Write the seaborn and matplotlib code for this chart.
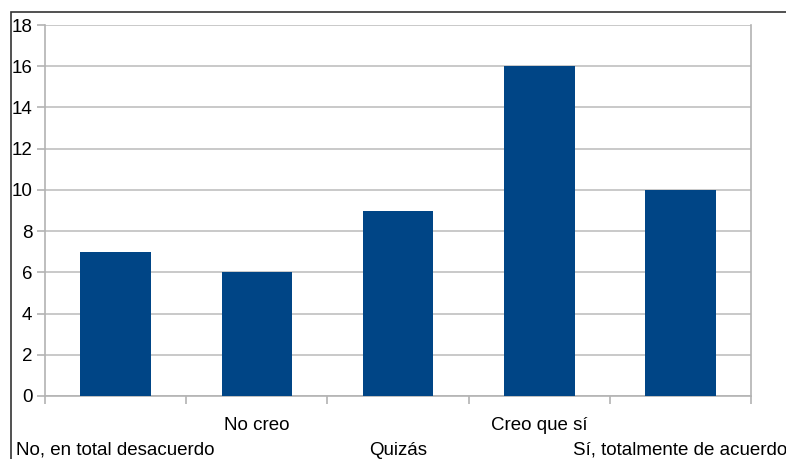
import matplotlib
matplotlib.use("Agg")
import matplotlib.pyplot as plt
import matplotlib.transforms as mtransforms
from matplotlib.patches import Rectangle
import seaborn as sns
import pandas as pd

categories = ["No, en total desacuerdo", "No creo", "Quizás", "Creo que sí", "Sí, totalmente de acuerdo"]
values = [7, 6, 9, 16, 10]
yticks = [0, 2, 4, 6, 8, 10, 12, 14, 16, 18]

sns.set_theme(style="white")
plt.rcParams['font.family'] = ['Liberation Sans', 'DejaVu Sans']

W, H = 786, 459
fig = plt.figure(figsize=(W / 100, H / 100), dpi=100)
fig.patch.set_facecolor("white")

# figure border (left and top visible)
fig.add_artist(Rectangle((11 / W, -0.1), 2.0, (H - 12) / H + 0.1, transform=fig.transFigure,
                         fill=False, edgecolor="#333333", linewidth=1.2))

ax = fig.add_axes([45 / W, (H - 396) / H, 706 / W, (396 - 25) / H])
df = pd.DataFrame({"cat": categories, "val": values})
sns.barplot(data=df, x="cat", y="val", color="#004586", width=0.5, saturation=1, ax=ax,
            zorder=3, linewidth=0, edgecolor="none")

ax.set_ylim(0, 18)
ax.set_xlim(-0.5, len(categories) - 0.5)
ax.set_yticks(yticks)
ax.set_yticklabels([str(t) for t in yticks])
ax.set_xlabel("")
ax.set_ylabel("")
ax.yaxis.grid(True, color="#c0c0c0", linewidth=1.2, zorder=0)
ax.set_axisbelow(True)

gray = "#b3b3b3"
for s in ["left", "right", "bottom"]:
    ax.spines[s].set_visible(True)
    ax.spines[s].set_color(gray)
    ax.spines[s].set_linewidth(1.2)
ax.spines["top"].set_visible(False)

ax.tick_params(axis="y", which="major", left=True, length=6, width=1.2, color=gray, pad=3,
               labelsize=13.5, labelcolor="black")
ax.tick_params(axis="x", which="major", bottom=True, length=0, pad=15, labelsize=13.5, labelcolor="black")
ax.set_xticks(range(len(categories)))
ax.set_xticklabels(categories)
ax.set_xticks([i - 0.5 for i in range(len(categories) + 1)], minor=True)
ax.tick_params(axis="x", which="minor", bottom=True, length=6, width=1.2, color=gray)

offset = mtransforms.ScaledTranslation(0, -25 / 100, fig.dpi_scale_trans)
for i, lab in enumerate(ax.get_xticklabels()):
    if i % 2 == 0:
        lab.set_transform(lab.get_transform() + offset)

fig.savefig("out.png", dpi=100, facecolor="white")
